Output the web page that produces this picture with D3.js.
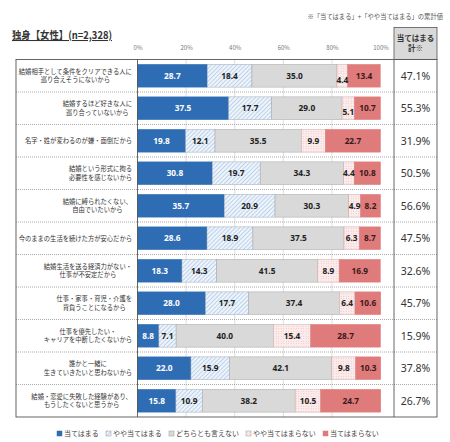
<!DOCTYPE html>
<html>
<head>
<meta charset="utf-8">
<script src="https://cdn.jsdelivr.net/npm/d3@7"></script>
<style>
  body { margin: 0; background: #fff; }
  svg { display: block; font-family: "Noto Sans CJK JP", "Noto Sans", sans-serif; }
</style>
</head>
<body>
<div id="chart"></div>
<script>
// categories (line breaks marked with |)
const categories = [
  '結婚相手として条件をクリアできる人に|巡り合えそうにないから',
  '結婚するほど好きな人に|巡り合っていないから',
  '名字・姓が変わるのが嫌・面倒だから',
  '結婚という形式に拘る|必要性を感じないから',
  '結婚に縛られたくない、|自由でいたいから',
  '今のままの生活を続けた方が安心だから',
  '結婚生活を送る経済力がない・|仕事が不安定だから',
  '仕事・家事・育児・介護を|背負うことになるから',
  '仕事を優先したい・|キャリアを中断したくないから',
  '誰かと一緒に|生きていきたいと思わないから',
  '結婚・恋愛に失敗した経験があり、|もうしたくないと思うから'
];
const seriesNames = ['当てはまる', 'やや当てはまる', 'どちらとも言えない', 'やや当てはまらない', '当てはまらない'];
const applies = [28.7, 37.5, 19.8, 30.8, 35.7, 28.6, 18.3, 28.0, 8.8, 22.0, 15.8];
const someApplies = [18.4, 17.7, 12.1, 19.7, 20.9, 18.9, 14.3, 17.7, 7.1, 15.9, 10.9];
const neither = [35.0, 29.0, 35.5, 34.3, 30.3, 37.5, 41.5, 37.4, 40.0, 42.1, 38.2];
const someNot = [4.4, 5.1, 9.9, 4.4, 4.9, 6.3, 8.9, 6.4, 15.4, 9.8, 10.5];
const notApply = [13.4, 10.7, 22.7, 10.8, 8.2, 8.7, 16.9, 10.6, 28.7, 10.3, 24.7];
const totals = [47.1, 55.3, 31.9, 50.5, 56.6, 47.5, 32.6, 45.7, 15.9, 37.8, 26.7];
const ticks = [0, 20, 40, 60, 80, 100];

const W = 450, H = 442;
const svg = d3.select('#chart').append('svg').attr('width', W).attr('height', H);

// rough text width: full-width glyphs = 1em, others ~0.55em
const textWidth = (s, fs) =>
  Array.from(s).reduce((a, ch) => a + (ch.charCodeAt(0) > 0x2000 ? fs : fs * 0.55), 0);

// patterns
const defs = svg.append('defs');
const hatch = defs.append('pattern').attr('id', 'hatch')
  .attr('width', 3).attr('height', 3)
  .attr('patternUnits', 'userSpaceOnUse')
  .attr('patternTransform', 'rotate(45)');
hatch.append('rect').attr('width', 3).attr('height', 3).attr('fill', '#eef4fb');
hatch.append('line').attr('x1', 0).attr('y1', 0).attr('x2', 0).attr('y2', 3)
  .attr('stroke', '#8fb1d8').attr('stroke-width', 1);
const dots = defs.append('pattern').attr('id', 'dots')
  .attr('width', 2.5).attr('height', 2.5)
  .attr('patternUnits', 'userSpaceOnUse');
dots.append('rect').attr('width', 2.5).attr('height', 2.5).attr('fill', '#fcecec');
dots.append('circle').attr('cx', 1.2).attr('cy', 1.2).attr('r', 0.45).attr('fill', '#e4a9a9');

const fills = ['#2e6db4', 'url(#hatch)', '#d9d9d9', 'url(#dots)', '#e07b7c'];
const strokes = ['#2e6db4', '#9aa9b8', '#a6a6a6', '#c9a9a9', '#e07b7c'];
const textColors = ['#fff', '#222', '#222', '#222', '#3a1a1a'];

// layout
const tableLeft = 16, labelRight = 137.5, tableRight = 394, totalRight = 437;
const tableTop = 59.5, tableBottom = 417;

const x = d3.scaleLinear().domain([0, 100]).range([labelRight, 380.5]);
const y = d3.scaleBand().domain(d3.range(categories.length)).range([tableTop, tableBottom])
  .paddingInner(0.3).paddingOuter(0.15);
const step = y.step();
const rowTop = (i) => tableTop + i * (tableBottom - tableTop) / categories.length;

// stacked data
const rows = categories.map((c, i) => {
  const vals = [applies[i], someApplies[i], neither[i], someNot[i], notApply[i]];
  let acc = 0;
  return vals.map((v, k) => {
    const seg = { row: i, k, v, x0: acc, x1: acc + v };
    acc += v;
    return seg;
  });
});

// header note
svg.append('text').attr('x', 443).attr('y', 19).attr('text-anchor', 'end')
  .attr('font-size', 6.3).attr('fill', '#555')
  .text('※「当てはまる」+「やや当てはまる」の累計値');

// title
svg.append('text').attr('x', 12).attr('y', 39)
  .attr('font-size', 10.5).attr('font-weight', 'bold').attr('fill', '#333')
  .attr('text-decoration', 'underline')
  .attr('textLength', 100).attr('lengthAdjust', 'spacingAndGlyphs')
  .text('独身【女性】(n=2,328)');

// total header box
svg.append('rect').attr('x', tableRight).attr('y', 27.5)
  .attr('width', totalRight - tableRight).attr('height', tableTop - 27.5)
  .attr('fill', '#d9d9d9').attr('stroke', '#555').attr('stroke-width', 0.8);
svg.append('text').attr('x', (tableRight + totalRight) / 2).attr('y', 41)
  .attr('text-anchor', 'middle').attr('font-size', 7.5).attr('font-weight', 'bold')
  .attr('fill', '#333').text('当てはまる');
svg.append('text').attr('x', (tableRight + totalRight) / 2).attr('y', 51)
  .attr('text-anchor', 'middle').attr('font-size', 7.5).attr('font-weight', 'bold')
  .attr('fill', '#333').text('計※');

// axis
const xAxis = d3.axisTop(x).tickValues(ticks).tickFormat((d) => d + '%').tickSize(0);
svg.append('g').attr('class', 'x axis')
  .attr('transform', 'translate(0, 53)')
  .call(xAxis)
  .call((g) => g.select('.domain').remove())
  .selectAll('text')
  .attr('font-size', 6).attr('fill', '#777')
  .attr('font-family', '"Noto Sans CJK JP", sans-serif');

// gridlines
svg.append('g').selectAll('line').data([20, 40, 60, 80]).join('line')
  .attr('x1', (d) => x(d)).attr('x2', (d) => x(d))
  .attr('y1', tableTop).attr('y2', tableBottom)
  .attr('stroke', '#d0d0d0').attr('stroke-width', 0.7);

// row separators
svg.append('g').selectAll('line').data(d3.range(1, categories.length)).join('line')
  .attr('x1', tableLeft).attr('x2', totalRight)
  .attr('y1', (i) => rowTop(i)).attr('y2', (i) => rowTop(i))
  .attr('stroke', '#888').attr('stroke-width', 0.7)
  .attr('stroke-dasharray', '1,1');

// bars
const rowG = svg.append('g').selectAll('g').data(rows).join('g');
rowG.selectAll('rect').data((d) => d).join('rect')
  .attr('x', (d) => x(d.x0))
  .attr('y', (d) => y(d.row))
  .attr('width', (d) => x(d.x1) - x(d.x0))
  .attr('height', y.bandwidth())
  .attr('fill', (d) => fills[d.k])
  .attr('stroke', (d) => strokes[d.k])
  .attr('stroke-width', 0.5);
rowG.selectAll('text').data((d) => d).join('text')
  .attr('x', (d) => x((d.x0 + d.x1) / 2))
  .attr('y', (d) => y(d.row) + y.bandwidth() / 2 + 3 + (d.v < 5.2 && d.k === 3 && d.row < 2 ? 4 : 0))
  .attr('text-anchor', 'middle')
  .attr('font-size', 8.3).attr('font-weight', 'bold')
  .attr('font-family', '"Noto Sans", sans-serif')
  .attr('fill', (d) => textColors[d.k])
  .text((d) => d.v.toFixed(1));

// category labels: block right-aligned, lines centred within block
const labelFs = 6.3;
const labelG = svg.append('g');
categories.forEach((c, i) => {
  const lines = c.split('|');
  const cy = rowTop(i) + step / 2;
  const lh = 8.6;
  const maxW = d3.max(lines, (l) => textWidth(l, labelFs));
  labelG.append('g').selectAll('text').data(lines).join('text')
    .attr('x', 132 - maxW / 2)
    .attr('y', (l, j) => cy + (j - (lines.length - 1) / 2) * lh + 2.3)
    .attr('font-size', labelFs).attr('fill', '#333')
    .attr('text-anchor', 'middle')
    .text((l) => l);
});

// totals
svg.append('g').selectAll('text').data(totals).join('text')
  .attr('x', (tableRight + totalRight) / 2)
  .attr('y', (d, i) => rowTop(i) + step / 2 + 3.8)
  .attr('text-anchor', 'middle')
  .attr('font-size', 10.5).attr('fill', '#333')
  .attr('font-family', '"Noto Sans", sans-serif')
  .text((d) => d.toFixed(1) + '%');

// table frame
svg.append('rect').attr('x', tableLeft).attr('y', tableTop)
  .attr('width', totalRight - tableLeft).attr('height', tableBottom - tableTop)
  .attr('fill', 'none').attr('stroke', '#555').attr('stroke-width', 0.9);
[labelRight, tableRight].forEach((lx) => {
  svg.append('line').attr('x1', lx).attr('x2', lx).attr('y1', tableTop).attr('y2', tableBottom)
    .attr('stroke', '#555').attr('stroke-width', 0.9);
});

// legend
const legendFs = 7;
const legend = svg.append('g');
let lx = 0;
seriesNames.forEach((name, k) => {
  const item = legend.append('g').attr('transform', `translate(${lx}, 0)`);
  item.append('rect').attr('x', 0).attr('y', -5).attr('width', 5).attr('height', 5)
    .attr('fill', fills[k]).attr('stroke', k === 0 || k === 4 ? fills[k] : '#999')
    .attr('stroke-width', 0.5);
  item.append('text').attr('x', 7).attr('y', 0)
    .attr('font-size', legendFs).attr('fill', '#444').text(name);
  lx += 7 + textWidth(name, legendFs) + 7;
});
lx -= 7;
legend.attr('transform', `translate(${218 - lx / 2}, 436)`);
</script>
</body>
</html>
